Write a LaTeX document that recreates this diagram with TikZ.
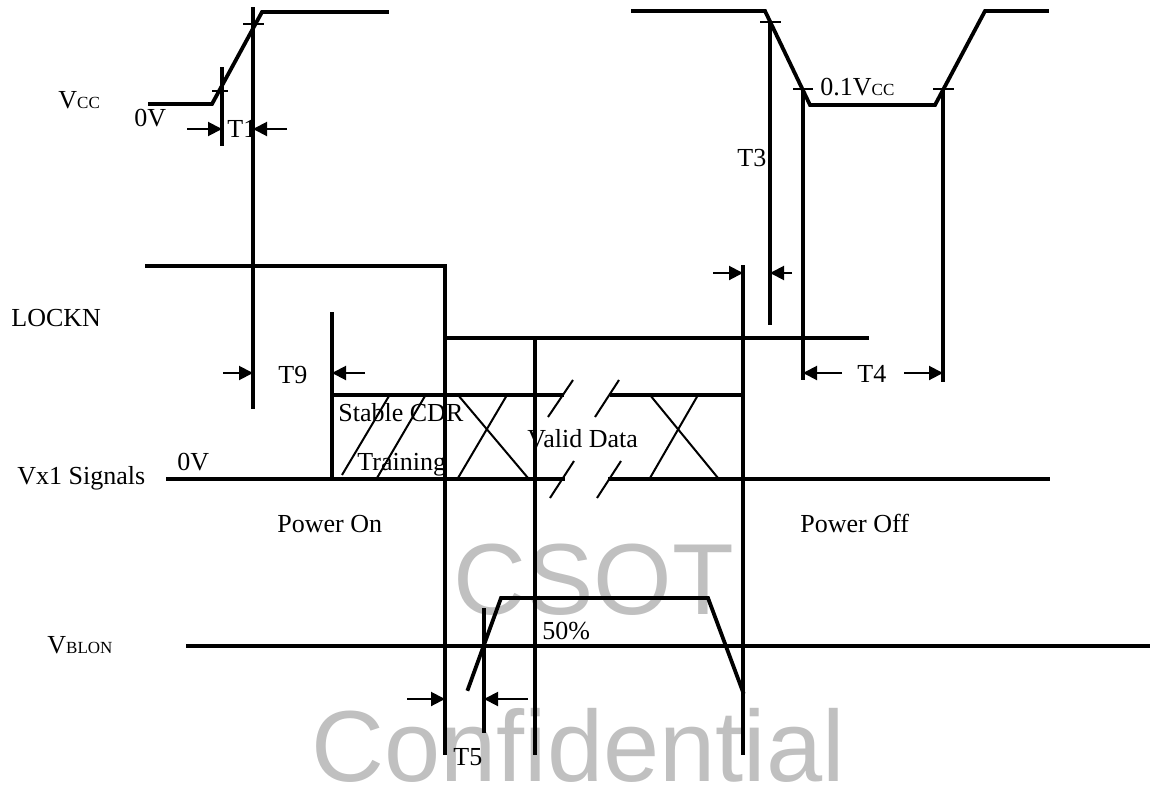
\documentclass[tikz,border=0pt]{standalone}
\usepackage{fontspec}
\setmainfont{Liberation Serif}
\newfontfamily\wmfont{Liberation Sans}
\usetikzlibrary{arrows.meta}
\definecolor{wmgray}{RGB}{192,192,192}
\newcommand{\subsz}{\fontsize{8.5}{10}\selectfont}
\begin{document}
\begin{tikzpicture}[x=0.5pt,y=-0.5pt,
  wave/.style={line width=1.9pt,line cap=rect},
  vline/.style={line width=1.9pt},
  thinl/.style={line width=1pt},
  tick/.style={line width=1pt},
  dimarrow/.style={line width=1pt,-{Triangle[length=7pt,width=7pt]}},
  lbl/.style={inner sep=0pt,anchor=base west,font=\fontsize{13}{15}\selectfont},
  wm/.style={inner sep=0pt,anchor=base west,text=wmgray,font=\wmfont\fontsize{50.5}{56}\selectfont}]
\useasboundingbox (0,0) rectangle (1150,787);
% watermark
\node[wm] (wm1) at (453,614) {CSOT};
\node[wm] (wm2) at (311,781) {Confidential};
% VCC power on
\draw[wave] (150,104) -- (212,104) -- (262,12) -- (387,12);
\draw[tick] (212,91) -- (228,91);
\draw[tick] (243,24) -- (264,24);
\draw[vline] (222,67) -- (222,146);
\draw[vline] (253,7) -- (253,409);
\draw[dimarrow] (187,129) -- (222,129);
\draw[dimarrow] (287,129) -- (253,129);
% VCC power off
\draw[wave] (633,11) -- (765,11) -- (810,105) -- (935,105) -- (985,11) -- (1047,11);
\draw[tick] (760,22) -- (781,22);
\draw[tick] (793,89) -- (813,89);
\draw[tick] (933,89) -- (954,89);
\draw[vline] (770,22) -- (770,325);
\draw[vline] (803,89) -- (803,380);
\draw[vline] (943,89) -- (943,382);
\draw[dimarrow] (713,273) -- (743,273);
\draw[dimarrow] (792,273) -- (770,273);
\draw[dimarrow] (842,373) -- (803,373);
\draw[dimarrow] (904,373) -- (943,373);
% LOCKN
\draw[wave] (147,266) -- (445,266);
\draw[wave] (445,338) -- (867,338);
\draw[vline] (445,266) -- (445,755);
\draw[vline] (535,338) -- (535,755);
\draw[vline] (743,265) -- (743,755);
% T9
\draw[vline] (332,312) -- (332,479);
\draw[dimarrow] (223,373) -- (253,373);
\draw[dimarrow] (365,373) -- (332,373);
% Vx1 signals
\draw[wave] (168,479) -- (563,479);
\draw[wave] (610,479) -- (1048,479);
\draw[wave] (332,395) -- (562,395);
\draw[wave] (612,395) -- (743,395);
\draw[thinl] (342,475) -- (389,396);
\draw[thinl] (377,478) -- (425,396);
\draw[thinl] (458,395) -- (528,478);
\draw[thinl] (507,395) -- (458,478);
\draw[thinl] (650,395) -- (718,478);
\draw[thinl] (698,395) -- (650,478);
\draw[thinl] (548,417) -- (573,380);
\draw[thinl] (595,417) -- (619,380);
\draw[thinl] (550,498) -- (574,461);
\draw[thinl] (597,498) -- (621,461);
% VBLON
\draw[wave] (188,646) -- (1150,646);
\draw[wave] (468,689) -- (501,598) -- (708,598) -- (743,692);
\draw[vline] (484,608) -- (484,733);
\draw[dimarrow] (407,699) -- (445,699);
\draw[dimarrow] (528,699) -- (484,699);
% labels
\node[lbl] (vcc) at (58,108) {V{\subsz CC}};
\node[lbl] (zv1) at (134,126) {0V};
\node[lbl] (t1) at (227,137) {T1};
\node[lbl] (t3) at (737,166) {T3};
\node[lbl] (pv) at (820,95) {0.1V{\subsz CC}};
\node[lbl] (t9) at (278,383) {T9};
\node[lbl] (t4) at (857,382) {T4};
\node[lbl] (lockn) at (11,326) {LOCKN};
\node[lbl] (vx1) at (17,484) {Vx1 Signals};
\node[lbl] (zv2) at (177,470) {0V};
\node[lbl] (scdr) at (338,421) {Stable CDR};
\node[lbl] (train) at (357,470) {Training};
\node[lbl] (vdata) at (527,447) {Valid Data};
\node[lbl] (pon) at (277,532) {Power On};
\node[lbl] (poff) at (800,532) {Power Off};
\node[lbl] (vblon) at (47,653) {V{\subsz BLON}};
\node[lbl] (pct) at (542,639) {50\%};
\node[lbl] (t5) at (453,765) {T5};
\end{tikzpicture}
\end{document}
